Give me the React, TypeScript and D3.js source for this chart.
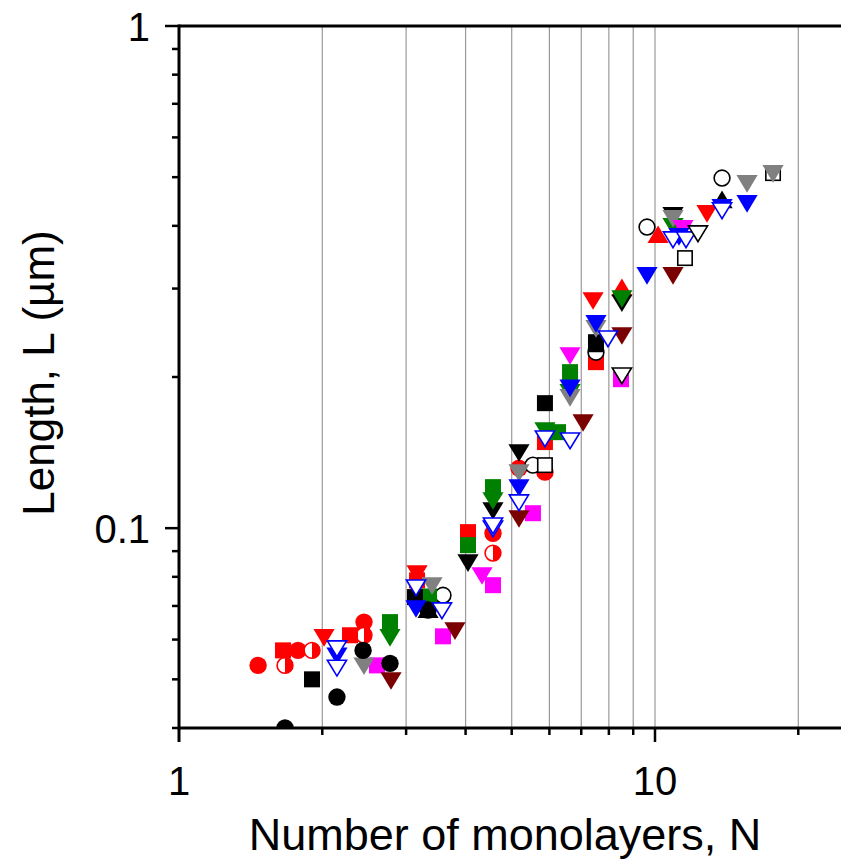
import React from "react";
import * as d3 from "d3";

// Length of the nanostructures versus number of monolayers, several sample series.
// Each series: [N, L (µm)] pairs.
const redCircles: [number, number][] = [
  [1.466, 0.0533], [1.778, 0.0571], [2.447, 0.065], [4.567, 0.0977], [5.179, 0.1317], [5.872, 0.1293],
];
const redHalfCircles: [number, number][] = [
  [1.67, 0.0533], [1.903, 0.0571], [2.447, 0.0612], [4.567, 0.0892],
];
const blackCircles: [number, number][] = [
  [1.67, 0.04], [2.147, 0.0461], [2.436, 0.0571], [2.775, 0.0538], [3.336, 0.0687],
];
const openCircles: [number, number][] = [
  [3.586, 0.0735], [5.541, 0.1335], [9.621, 0.3978], [13.83, 0.498],
];
const blackHalfCircles: [number, number][] = [[7.516, 0.2241]];

const redSquares: [number, number][] = [
  [1.654, 0.0571], [2.287, 0.0612], [3.163, 0.0787], [4.047, 0.0982], [5.872, 0.1484], [7.516, 0.2141],
];
const blackSquares: [number, number][] = [
  [1.903, 0.05], [3.132, 0.0729], [5.872, 0.1774], [7.516, 0.2346],
];
const magentaSquares: [number, number][] = [
  [2.606, 0.0533], [3.586, 0.0609], [4.567, 0.077], [5.541, 0.1071], [8.484, 0.198],
];
const greenSquares: [number, number][] = [
  [2.775, 0.065], [3.352, 0.0731], [4.047, 0.0925], [4.567, 0.1207], [6.256, 0.1553], [6.63, 0.2045],
];
const openSquares: [number, number][] = [
  [5.872, 0.1335], [11.56, 0.345], [17.7, 0.5094],
];

const redUpTriangles: [number, number][] = [[8.52, 0.3006], [10.15, 0.3835]];
const blackUpTriangles: [number, number][] = [[3.336, 0.0687], [13.83, 0.4499]];

const maroonTriangles: [number, number][] = [
  [2.789, 0.0498], [3.8, 0.0626], [5.179, 0.1047], [7.062, 0.1626], [8.52, 0.2423], [10.91, 0.3192],
];
const greenTriangles: [number, number][] = [
  [2.775, 0.0607], [4.567, 0.1137], [5.872, 0.1567], [6.63, 0.1866], [8.52, 0.2871], [10.91, 0.3997],
];
const greyTriangles: [number, number][] = [
  [2.447, 0.0533], [3.401, 0.077], [5.179, 0.1293], [6.63, 0.1824], [7.516, 0.2503], [10.91, 0.4146],
  [15.61, 0.4866], [17.7, 0.5094],
];
const blackTriangles: [number, number][] = [
  [4.047, 0.0855], [4.567, 0.1086], [5.179, 0.1417], [8.52, 0.2815], [10.91, 0.4203],
];
const magentaTriangles: [number, number][] = [[4.331, 0.0806], [6.63, 0.2211], [11.45, 0.3959]];
const redTriangles: [number, number][] = [
  [2.017, 0.0607], [3.163, 0.0813], [7.411, 0.2845], [12.86, 0.4241],
];
const blueTriangles: [number, number][] = [
  [2.147, 0.0558], [3.147, 0.0693], [5.179, 0.1207], [6.63, 0.1905], [7.516, 0.2561], [9.621, 0.3192],
  [11.23, 0.3817], [13.83, 0.436], [15.61, 0.444],
];
const blueOpenTriangles: [number, number][] = [
  [2.147, 0.0577], [2.147, 0.0528], [3.147, 0.0763], [3.568, 0.0687], [4.567, 0.1], [4.567, 0.1014],
  [5.179, 0.1127], [5.872, 0.1511], [6.63, 0.1497], [7.965, 0.239], [10.91, 0.3765], [11.62, 0.3765],
  [13.83, 0.43],
];
const blackOpenTriangles: [number, number][] = [[8.52, 0.2017], [12.31, 0.387]];

const xGridValues = [2, 3, 4, 5, 6, 7, 8, 9, 10, 20];
const xTickLabels = [1, 10];
const yTickLabels = [1, 0.1];
const yMinorValues = [0.04, 0.05, 0.06, 0.07, 0.08, 0.09, 0.2, 0.3, 0.4, 0.5, 0.6, 0.7, 0.8, 0.9];

type Shape = "circle" | "halfRight" | "halfTop" | "square" | "up" | "down";
type Series = { pts: [number, number][]; shape: Shape; color: string; open?: boolean };

const RED = "#ff0000";
const BLUE = "#0000ff";
const GREEN = "#008000";
const GREY = "#808080";
const MAGENTA = "#ff00ff";
const MAROON = "#7b0000";
const BLACK = "#000000";

// Draw order: later series sit on top of earlier ones.
const seriesList: Series[] = [
  { pts: redCircles, shape: "circle", color: RED },
  { pts: redHalfCircles, shape: "halfRight", color: RED },
  { pts: openCircles, shape: "circle", color: BLACK, open: true },
  { pts: redSquares, shape: "square", color: RED },
  { pts: magentaSquares, shape: "square", color: MAGENTA },
  { pts: openSquares, shape: "square", color: BLACK, open: true },
  { pts: redUpTriangles, shape: "up", color: RED },
  { pts: blackTriangles, shape: "down", color: BLACK },
  { pts: greenTriangles, shape: "down", color: GREEN },
  { pts: greenSquares, shape: "square", color: GREEN },
  { pts: blackSquares, shape: "square", color: BLACK },
  { pts: blackHalfCircles, shape: "halfTop", color: BLACK },
  { pts: blackUpTriangles, shape: "up", color: BLACK },
  { pts: maroonTriangles, shape: "down", color: MAROON },
  { pts: greyTriangles, shape: "down", color: GREY },
  { pts: magentaTriangles, shape: "down", color: MAGENTA },
  { pts: blackCircles, shape: "circle", color: BLACK },
  { pts: redTriangles, shape: "down", color: RED },
  { pts: blueTriangles, shape: "down", color: BLUE },
  { pts: blueOpenTriangles, shape: "down", color: BLUE, open: true },
  { pts: blackOpenTriangles, shape: "down", color: BLACK, open: true },
];

const W = 841;
const H = 864;
const left = 179;
const top = 26;
const bottom = 728;
const decadeX = 476;

const x = d3.scaleLog().domain([1, 25]).range([left, left + decadeX * Math.log10(25)]);
const y = d3.scaleLog().domain([0.04, 1]).range([bottom, top]);

const FONT = "'Liberation Sans', Arial, Helvetica, sans-serif";

function Marker({ cx, cy, s }: { cx: number; cy: number; s: Series }) {
  const fill = s.open ? "#fff" : s.color;
  const sw = s.open ? 1.6 : 0;
  const stroke = s.open ? s.color : "none";
  const r = 8.7;
  switch (s.shape) {
    case "circle":
      return <circle cx={cx} cy={cy} r={s.open ? r - 0.8 : r} fill={fill} stroke={stroke} strokeWidth={sw} />;
    case "halfRight": {
      const rr = r - 0.8;
      return (
        <g>
          <circle cx={cx} cy={cy} r={rr} fill="#fff" stroke={s.color} strokeWidth={1.6} />
          <path d={`M${cx},${cy - rr} A${rr},${rr} 0 0 1 ${cx},${cy + rr} Z`} fill={s.color} />
        </g>
      );
    }
    case "halfTop": {
      const rr = r - 0.8;
      return (
        <g>
          <circle cx={cx} cy={cy} r={rr} fill="#fff" stroke={s.color} strokeWidth={1.6} />
          <path d={`M${cx - rr},${cy} A${rr},${rr} 0 0 1 ${cx + rr},${cy} Z`} fill={s.color} />
        </g>
      );
    }
    case "square": {
      const h = s.open ? 7.2 : 8;
      return <rect x={cx - h} y={cy - h} width={2 * h} height={2 * h} fill={fill} stroke={stroke} strokeWidth={sw} />;
    }
    case "down": {
      const hw = s.open ? 9.6 : 10.6;
      const t = s.open ? 7.2 : 8;
      const b = s.open ? 8.6 : 9.6;
      return (
        <path d={`M${cx - hw},${cy - t} L${cx + hw},${cy - t} L${cx},${cy + b} Z`} fill={fill} stroke={stroke} strokeWidth={sw} strokeLinejoin="miter" />
      );
    }
    case "up": {
      const hw = 10.6;
      return <path d={`M${cx - hw},${cy + 8} L${cx + hw},${cy + 8} L${cx},${cy - 9.6} Z`} fill={fill} />;
    }
  }
  return null;
}

export default function App() {
  const xr = x.range()[1];
  return (
    <svg width={W} height={H} style={{ position: "absolute", left: 0, top: 0, background: "#fff" }}>
      <defs>
        <clipPath id="plotArea">
          <rect x={left} y={top} width={W - left} height={bottom - top} />
        </clipPath>
      </defs>
      <rect x={0} y={0} width={W} height={H} fill="#fff" />

      {/* vertical grid lines */}
      {xGridValues.map((v) => (
        <line key={`g${v}`} x1={x(v)} x2={x(v)} y1={top} y2={bottom} stroke="#999" strokeWidth={1.2} />
      ))}

      {/* data markers */}
      <g clipPath="url(#plotArea)">
        {seriesList.map((s, i) => (
          <g key={i}>
            {s.pts.map(([n, l], j) => (
              <Marker key={j} cx={x(n)} cy={y(l)} s={s} />
            ))}
          </g>
        ))}
      </g>

      {/* axes frame */}
      <line x1={left} x2={xr} y1={bottom} y2={bottom} stroke="#000" strokeWidth={3} />
      <line x1={left} x2={xr} y1={top} y2={top} stroke="#000" strokeWidth={3} />
      <line x1={left} x2={left} y1={top - 1.5} y2={bottom + 1.5} stroke="#000" strokeWidth={3} />

      {/* x ticks */}
      {xGridValues.map((v) => (
        <line key={`xt${v}`} x1={x(v)} x2={x(v)} y1={bottom} y2={bottom + (v === 10 ? 14 : 7)} stroke="#000" strokeWidth={2.5} />
      ))}
      <line x1={x(1)} x2={x(1)} y1={bottom} y2={bottom + 14} stroke="#000" strokeWidth={3} />

      {/* y ticks */}
      {yMinorValues.map((v) => (
        <line key={`ym${v}`} x1={left - 7} x2={left} y1={y(v)} y2={y(v)} stroke="#000" strokeWidth={2.5} />
      ))}
      {yTickLabels.map((v) => (
        <line key={`yM${v}`} x1={left - 14} x2={left} y1={y(v)} y2={y(v)} stroke="#000" strokeWidth={2.5} />
      ))}

      {/* tick labels */}
      {xTickLabels.map((v) => (
        <text key={`xl${v}`} x={x(v)} y={bottom + 67} textAnchor="middle" fontFamily={FONT} fontSize={40}>
          {v}
        </text>
      ))}
      {yTickLabels.map((v) => (
        <text key={`yl${v}`} x={150} y={y(v) + 14.5} textAnchor="end" fontFamily={FONT} fontSize={40}>
          {v}
        </text>
      ))}

      {/* axis titles */}
      <text x={505} y={850} textAnchor="middle" fontFamily={FONT} fontSize={45}>
        Number of monolayers, N
      </text>
      <text transform={`translate(54,373) rotate(-90)`} textAnchor="middle" fontFamily={FONT} fontSize={44}>
        Length, L (µm)
      </text>
    </svg>
  );
}
